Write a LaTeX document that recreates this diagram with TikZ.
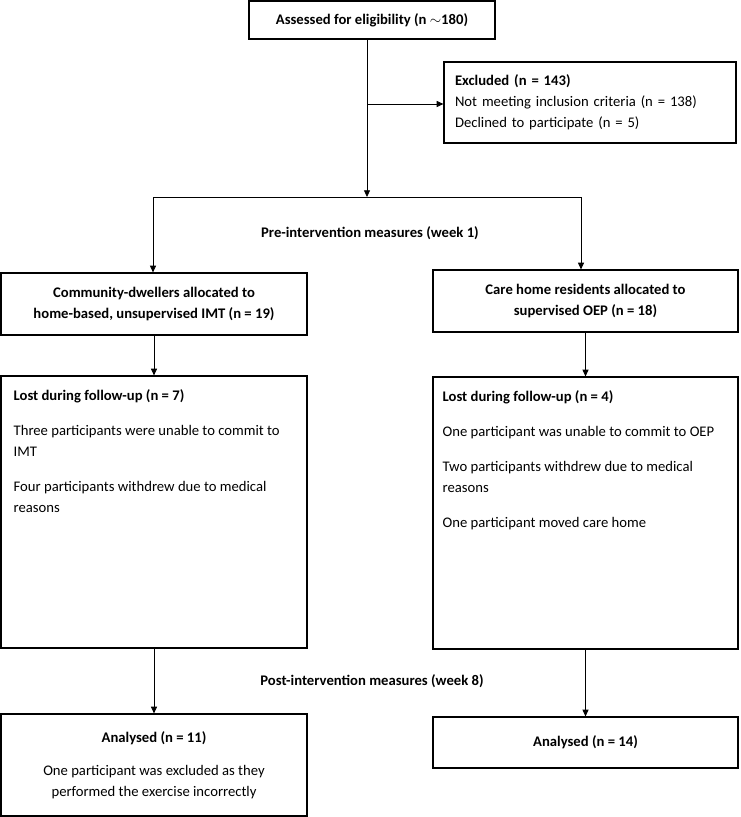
\documentclass[tikz,border=0pt]{standalone}
\usepackage{fontspec}
\setmainfont{Carlito}
\usetikzlibrary{arrows.meta}
\newcommand{\pxu}{0.75pt}
\tikzset{flowbox/.style = {shape = rectangle,
                           draw,
                           line width = 0.9pt,
                           inner sep = 0pt,
                           align = center,
                           font = \fontsize{11}{15.75}\selectfont},
         boxtext/.style = {anchor = north west,
                           inner sep = 0pt,
                           align = left,
                           font = \fontsize{11}{15.75}\selectfont}}
\begin{document}
\begin{tikzpicture}[x=\pxu, y=-\pxu,
                    arr/.style = {-{Triangle[length=5pt,width=4.5pt]},
                                  line width = 0.6pt},
                    stage/.style = {inner sep = 0pt,
                                    font = \fontsize{11}{15.75}\selectfont\bfseries}]
		\useasboundingbox (0,0) rectangle (740,817);
		\node[flowbox, minimum width=246*\pxu, minimum height=38*\pxu] (assess) at (372,20) {\textbf{Assessed for eligibility (n $\sim$180)}};
		\node[flowbox, align=left, text width=270*\pxu, inner xsep=11*\pxu, minimum height=81*\pxu] (excl) at (590,102.5) {\textbf{Excluded (n = 143)}\\Not meeting inclusion criteria (n = 138)\\Declined to participate (n = 5)};
		\node[flowbox, minimum width=306*\pxu, minimum height=62*\pxu] (comL) at (154,304) {\textbf{Community-dwellers allocated to}\\\textbf{home-based, unsupervised IMT (n = 19)}};
		\node[flowbox, minimum width=305*\pxu, minimum height=62*\pxu] (comR) at (585.5,301) {\textbf{Care home residents allocated to}\\\textbf{supervised OEP (n = 18)}};
		\node[flowbox, minimum width=306*\pxu, minimum height=272*\pxu] (lostL) at (154,512) {};
		\node[flowbox, minimum width=305*\pxu, minimum height=272*\pxu] (lostR) at (585.5,513) {};
		\node[boxtext] (lostLtxt) at ([shift={(13,14)}]lostL.north west) {\textbf{Lost during follow-up (n = 7)}\\[10.5pt]Three participants were unable to commit to\\IMT\\[10.5pt]Four participants withdrew due to medical\\reasons};
		\node[boxtext] (lostRtxt) at ([shift={(10,14)}]lostR.north west) {\textbf{Lost during follow-up (n = 4)}\\[10.5pt]One participant was unable to commit to OEP\\[10.5pt]Two participants withdrew due to medical\\reasons\\[10.5pt]One participant moved care home};
		\node[flowbox, minimum width=306*\pxu, minimum height=102*\pxu] (anaL) at (154,765) {\textbf{Analysed (n = 11)}\\[9pt]One participant was excluded as they\\performed the exercise incorrectly};
		\node[flowbox, minimum width=305*\pxu, minimum height=51*\pxu] (anaR) at (585.5,742.5) {\textbf{Analysed (n = 14)}};
		\node[stage] (pre) at (370,233) {Pre-intervention measures (week 1)};
		\node[stage] (post) at (372,681) {Post-intervention measures (week 8)};
		\coordinate (split) at (367,197);
		\coordinate (tap) at (368,104);
		\coordinate (splitL) at (153,197);
		\coordinate (splitR) at (581,197);
		\path[arr] (assess.south -| split) edge (split);
		\path[arr] (tap) edge (excl.west |- tap);
		\path[line width=0.6pt] (splitL) edge (splitR);
		\path[arr] (splitL) edge (comL.north -| splitL);
		\path[arr] (splitR) edge (comR.north -| splitR);
		\path[arr] (comL.south) edge (lostL.north);
		\path[arr] (comR.south) edge (lostR.north);
		\path[arr] (lostL.south) edge (anaL.north);
		\path[arr] (lostR.south) edge (anaR.north);
	\end{tikzpicture}
\end{document}
